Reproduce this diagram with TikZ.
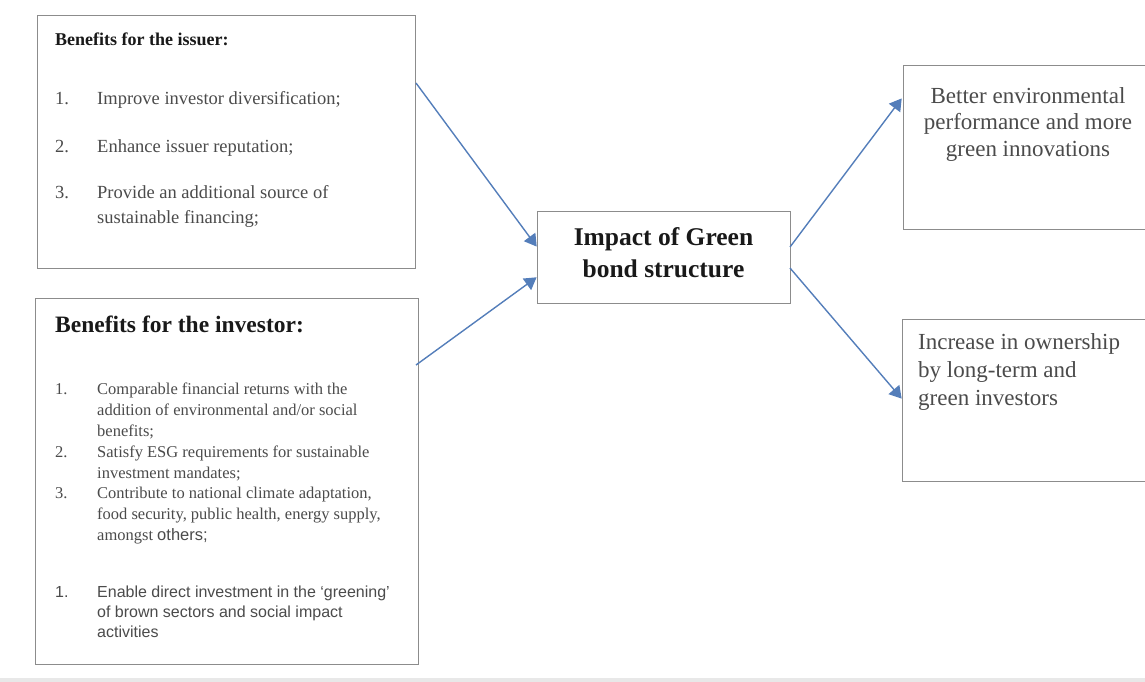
\documentclass[tikz,border=0pt]{standalone}
\usepackage{fontspec}
\setmainfont{Liberation Serif}
\setsansfont{Liberation Sans}
\usetikzlibrary{arrows.meta}
\definecolor{boxgray}{RGB}{140,140,140}
\definecolor{txtgray}{RGB}{75,75,75}
\definecolor{arrowblue}{RGB}{84,126,186}
\definecolor{sepgray}{RGB}{232,232,232}
\tikzset{
  box/.style={draw=boxgray, line width=1.4pt, fill=white, inner sep=0pt, anchor=north west},
  itemtxt/.style={anchor=base west, inner sep=0pt, align=left, text=txtgray},
  titletxt/.style={anchor=base west, inner sep=0pt, text=black!90},
  flow/.style={draw=arrowblue, line width=1.4pt, -{Triangle[width=14pt,length=12pt]}, shorten >=0.5pt}
}
\begin{document}
\begin{tikzpicture}[x=1pt,y=-1pt]
\useasboundingbox (0,0) rectangle (1145,682);
\fill[sepgray] (0,678) rectangle (1145,682);
% boxes
\node[box, minimum width=378pt, minimum height=253pt] (iss) at (37,15) {};
\node[box, minimum width=383pt, minimum height=366pt] (inv) at (35,298) {};
\node[box, minimum width=253pt, minimum height=92pt] (imp) at (537,211) {};
\node[box, minimum width=260pt, minimum height=164pt] (env) at (903,65) {};
\node[box, minimum width=260pt, minimum height=162pt] (own) at (902,319) {};
% issuer text (base anchor = last line baseline)
\node[titletxt, font=\bfseries\fontsize{18}{22}\selectfont] (isst) at (55,46) {Benefits for the issuer:};
\begin{scope}[every node/.style={itemtxt, font=\fontsize{18.5}{25}\selectfont}]
\node (i1n) at (55,105) {1.};
\node (i1) at (97,105) {Improve investor diversification;};
\node (i2n) at (55,152) {2.};
\node (i2) at (97,152) {Enhance issuer reputation;};
\node (i3n) at (55,198) {3.};
\node (i3) at (97,223) {Provide an additional source of\\sustainable financing;};
\end{scope}
% investor text
\node[titletxt, font=\bfseries\fontsize{23.5}{28}\selectfont] (invt) at (55,332) {Benefits for the investor:};
\begin{scope}[every node/.style={itemtxt, font=\fontsize{16.5}{21}\selectfont}]
\node (v1n) at (55,394) {1.};
\node (v1) at (97,436) {Comparable financial returns with the\\addition of environmental and/or social\\benefits;};
\node (v2n) at (55,457) {2.};
\node (v2) at (97,478) {Satisfy ESG requirements for sustainable\\investment mandates;};
\node (v3n) at (55,498) {3.};
\node (v3) at (97,540) {Contribute to national climate adaptation,\\food security, public health, energy supply,\\amongst {\sffamily others;}};
\end{scope}
\begin{scope}[every node/.style={itemtxt, font=\sffamily\fontsize{16}{20}\selectfont}]
\node (v4n) at (55,597) {1.};
\node (v4) at (97,637) {Enable direct investment in the `greening'\\of brown sectors and social impact\\activities};
\end{scope}
% center text
\node[inner sep=0pt, align=center, font=\bfseries\fontsize{25.5}{32}\selectfont, text=black!90, anchor=base] (impt) at (663.5,277) {Impact of Green\\bond structure};
% right texts
\node[inner sep=0pt, align=center, font=\fontsize{23}{27}\selectfont, text=txtgray, anchor=base] (envt) at (1028,157) {Better environmental\\performance and more\\green innovations};
\node[itemtxt, font=\fontsize{23}{28}\selectfont] (ownt) at (918,405) {Increase in ownership\\by long-term and\\green investors};
% arrows
\coordinate (a1s) at (416,83);
\coordinate (a2s) at (416,365);
\coordinate (a1e) at (537,247);
\coordinate (a2e) at (537,277);
\coordinate (b1s) at (790,247);
\coordinate (b2s) at (790,268);
\coordinate (b1e) at (902,98);
\coordinate (b2e) at (902,399);
\draw[flow] (a1s) -- (a1e);
\draw[flow] (a2s) -- (a2e);
\draw[flow] (b1s) -- (b1e);
\draw[flow] (b2s) -- (b2e);
\end{tikzpicture}
\end{document}
